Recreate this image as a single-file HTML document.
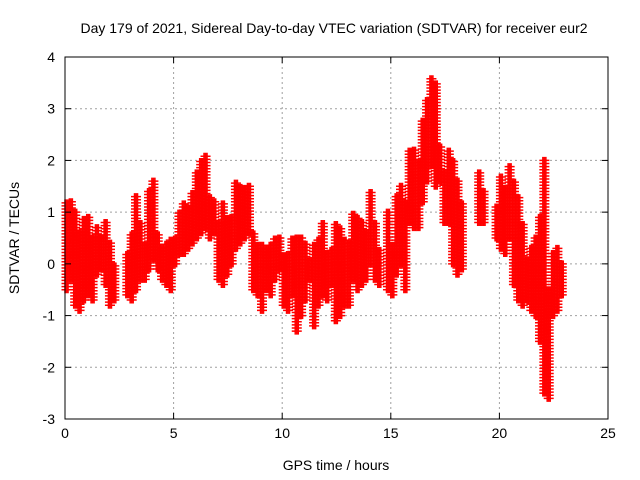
<!DOCTYPE html>
<html><head><meta charset="utf-8"><style>
body{margin:0;background:#fff}
svg{display:block;font-family:"Liberation Sans",sans-serif}
</style></head><body>
<svg id="chart" width="640" height="480" viewBox="0 0 640 480">
<text x="334" y="33" font-size="14" text-anchor="middle">Day 179 of 2021, Sidereal Day-to-day VTEC variation (SDTVAR) for receiver eur2</text>
<text x="336" y="470" font-size="14" text-anchor="middle">GPS time / hours</text>
<text transform="translate(19,238) rotate(-90)" font-size="14" text-anchor="middle">SDTVAR / TECUs</text>
<g id="grid"></g><g id="marks"></g><g id="axes"></g>
</svg>
<script>
const xTicks=[0,5,10,15,20,25];
const yTicks=[-3,-2,-1,0,1,2,3,4];
const times=[0,0.2,0.4,0.6,0.8,1.0,1.2,1.4,1.6,1.8,2.0,2.2,2.4,2.6,2.8,3.0,3.2,3.4,3.6,3.8,4.0,4.2,4.4,4.6,4.8,5.0,5.2,5.4,5.6,5.8,6.0,6.2,6.4,6.6,6.8,7.0,7.2,7.4,7.6,7.8,8.0,8.2,8.4,8.6,8.8,9.0,9.2,9.4,9.6,9.8,10.0,10.2,10.4,10.6,10.8,11.0,11.2,11.4,11.6,11.8,12.0,12.2,12.4,12.6,12.8,13.0,13.2,13.4,13.6,13.8,14.0,14.2,14.4,14.6,14.8,15.0,15.2,15.4,15.6,15.8,16.0,16.2,16.4,16.6,16.8,17.0,17.2,17.4,17.6,17.8,18.0,18.2,18.4,18.6,18.8,19.0,19.2,19.4,19.6,19.8,20.0,20.2,20.4,20.6,20.8,21.0,21.2,21.4,21.6,21.8,22.0,22.2,22.4,22.6,22.8];
const lows=[-0.5,-0.3,-0.8,-0.9,-0.7,-0.6,-0.7,-0.2,-0.1,-0.4,-0.8,-0.7,null,null,-0.6,-0.7,-0.5,-0.3,-0.3,-0.1,0.1,-0.1,-0.3,-0.4,-0.5,0.0,0.2,0.2,0.3,0.4,0.5,0.6,0.7,0.5,0.6,-0.3,-0.4,-0.2,0.0,0.3,0.4,0.5,0.6,-0.5,-0.6,-0.9,-0.5,-0.6,-0.3,-0.1,-0.8,-0.9,-0.6,-1.3,-1.0,-0.7,-0.3,-1.2,-0.8,-0.6,-0.7,-0.4,-1.1,-1.0,-0.8,-0.8,-0.3,-0.5,-0.4,-0.3,0.0,-0.3,-0.4,null,-0.5,-0.6,-0.2,0.0,-0.5,0.8,0.7,0.7,1.2,1.6,1.9,1.5,1.6,0.8,0.8,0.0,-0.2,-0.1,null,null,null,0.8,0.8,null,null,0.5,0.3,0.2,0.5,-0.4,-0.7,-0.8,-0.7,-0.9,-1.0,-1.5,-2.5,-2.6,-1.0,-0.9,-0.6];
const highs=[1.2,1.2,1.0,0.6,0.9,0.9,0.5,0.7,0.5,0.8,0.4,0.0,null,null,0.2,0.6,1.3,0.8,0.4,1.4,1.6,0.6,0.3,0.4,0.5,0.5,1.0,1.2,1.1,1.4,1.8,2.0,2.1,1.3,1.2,0.8,1.2,0.9,0.9,1.6,1.5,1.5,1.5,0.6,0.4,0.4,0.3,0.4,0.5,0.5,0.2,0.2,0.5,0.5,0.5,0.4,0.1,0.4,0.5,0.8,0.2,0.3,0.8,0.7,0.5,0.4,1.0,0.9,0.8,0.6,1.4,0.8,0.3,null,1.0,0.4,1.3,1.5,1.2,2.2,2.2,2.0,2.8,3.2,3.6,3.5,2.3,1.8,2.2,2.0,1.6,1.2,null,null,null,1.8,1.4,null,null,1.1,1.7,1.5,1.9,1.6,1.3,0.8,0.1,0.3,0.5,0.9,2.0,-0.5,0.2,0.3,0.0];
const NS="http://www.w3.org/2000/svg";
const L=65,R=608,T=57,B=419;
function xs(t){return L+(t-0)/(25-0)*(R-L);}
function ys(v){return B-(v+3)/7*(B-T);}
function mk(tag,attrs,parent){const e=document.createElementNS(NS,tag);for(const k in attrs)e.setAttribute(k,attrs[k]);parent.appendChild(e);return e;}
const grid=document.getElementById('grid'),axes=document.getElementById('axes'),marks=document.getElementById('marks');
xTicks.forEach(t=>{
  if(t>0&&t<25){const g=mk('line',{x1:xs(t),x2:xs(t),y1:T,y2:B,stroke:'#a0a0a0','stroke-dasharray':'2,3'},grid);
  
  }
  const tk=mk('line',{x1:xs(t),x2:xs(t),y1:B,y2:B-6,stroke:'#000'},axes);
  
  
  const tk2=mk('line',{x1:xs(t),x2:xs(t),y1:T,y2:T+6,stroke:'#000'},axes);
  
  
  const lb=mk('text',{x:xs(t),y:B+19,'font-size':14,'text-anchor':'middle'},axes);lb.textContent=t;
  
  
});
yTicks.forEach(v=>{
  if(v>-3&&v<4){const g=mk('line',{x1:L,x2:R,y1:ys(v),y2:ys(v),stroke:'#a0a0a0','stroke-dasharray':'2,3'},grid);
  
  }
  const tk=mk('line',{x1:L,x2:L+6,y1:ys(v),y2:ys(v),stroke:'#000'},axes);
  
  
  const tk2=mk('line',{x1:R,x2:R-6,y1:ys(v),y2:ys(v),stroke:'#000'},axes);
  
  
  const lb=mk('text',{x:L-10,y:ys(v)+5,'font-size':14,'text-anchor':'end'},axes);lb.textContent=v;
  
  
});
const fr=mk('rect',{x:L,y:T,width:R-L,height:B-T,fill:'none',stroke:'#000'},axes);


times.forEach((t,i)=>{
  const lo=lows[i],hi=highs[i];
  if(lo===null||hi===null)return;
  let d='';
  [0,0.07,0.14].forEach(dt=>{
    const x=xs(t+dt);
    for(let v=lo;v<=hi+1e-9;v+=0.06){const y=ys(v);d+=`M${x-3.5},${y}h7M${x},${y-3.5}v7`;}
  });
  const p=mk('path',{d:d,stroke:'#ff0000','stroke-width':1.5,fill:'none'},marks);
  
  
});
</script>
</body></html>
